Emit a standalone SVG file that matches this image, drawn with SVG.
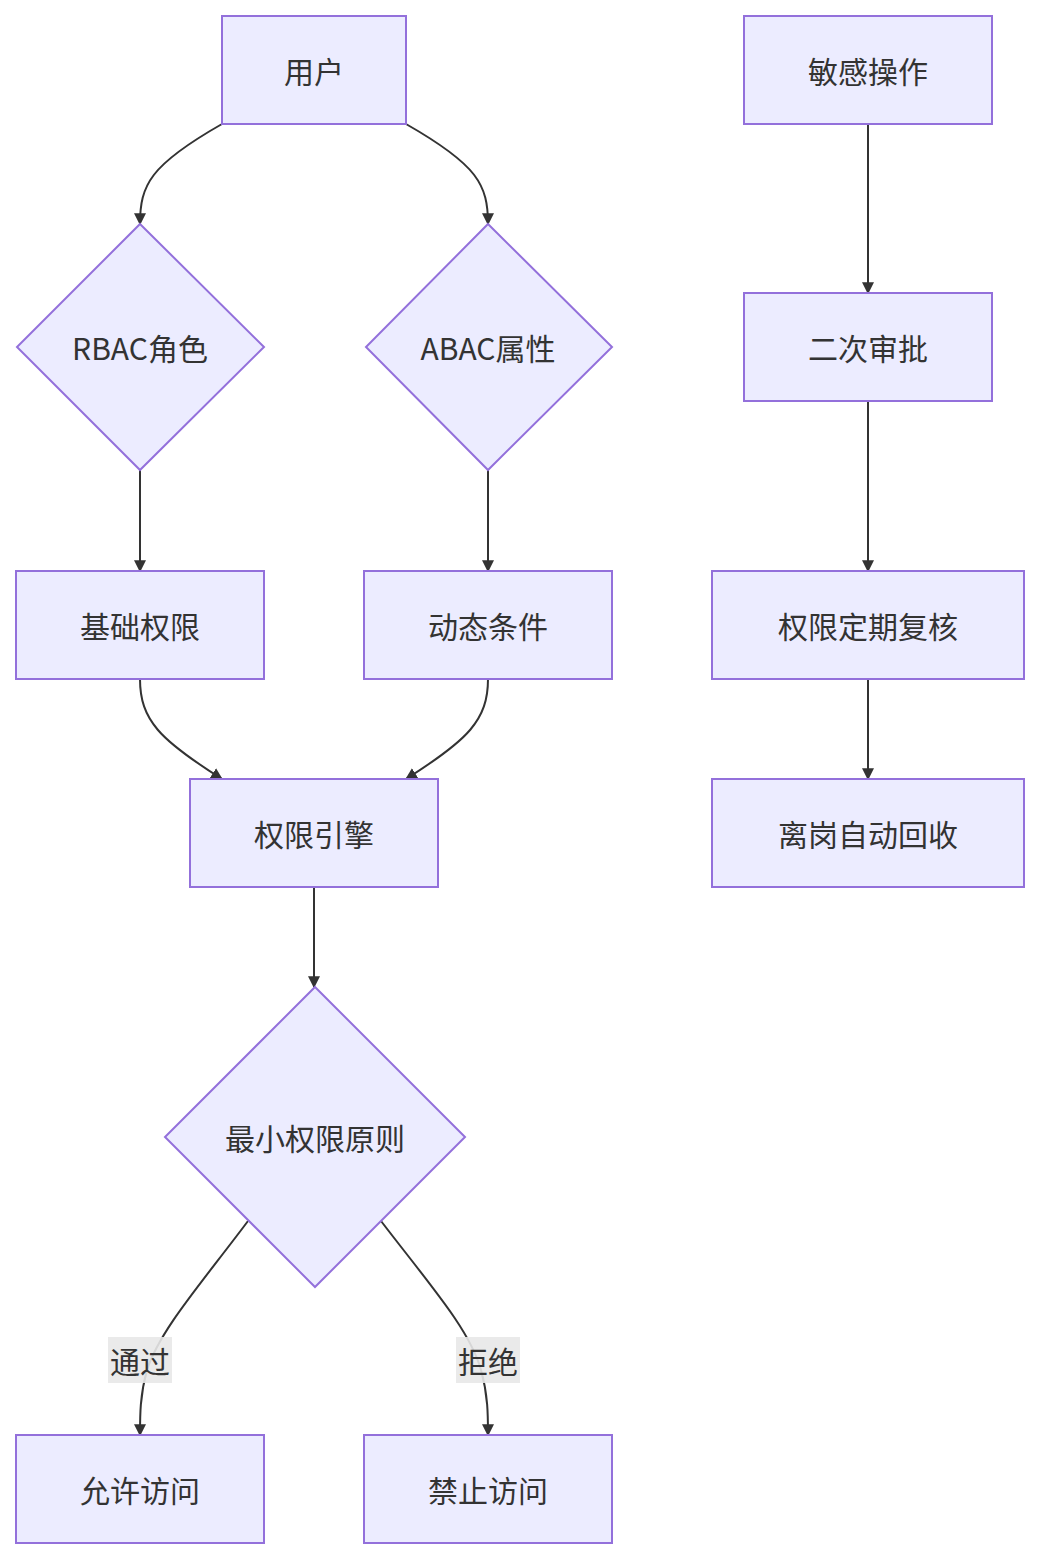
<svg xmlns="http://www.w3.org/2000/svg" width="1040" height="1558" viewBox="0 0 1040 1558">
<style>
.n{fill:#ECECFF;stroke:#9370DB;stroke-width:2}
.t{font-family:"Noto Sans CJK SC","Noto Sans",sans-serif;font-size:30px;fill:#333;text-anchor:middle;dominant-baseline:central}
.e{fill:none;stroke:#333;stroke-width:2;marker-end:url(#a)}
.lb{fill:#e8e8e8;opacity:0.9}
</style>
<defs><marker id="a" viewBox="0 0 10 10" refX="9" refY="5" markerWidth="12" markerHeight="12" markerUnits="userSpaceOnUse" orient="auto"><path d="M0,0L10,5L0,10z" fill="#333"/></marker></defs>
<rect width="1040" height="1558" fill="#fff"/>
<g id="edges">
<path class="e" d="M222,124 C150,165 140,185 140,224"/>
<path class="e" d="M406,124 C478,165 488,185 488,224"/>
<path class="e" d="M140,470 L140,571"/>
<path class="e" d="M488,470 L488,571"/>
<path class="e" d="M140,679 C140,720 160,740 222,779"/>
<path class="e" d="M488,679 C488,720 468,740 406,779"/>
<path class="e" d="M314,887 L314,987"/>
<path class="e" d="M248,1221 C200,1285 160,1330 147,1370 C140,1395 140,1415 140,1435"/>
<path class="e" d="M381,1221 C430,1285 470,1330 481,1370 C488,1395 488,1415 488,1435"/>
<path class="e" d="M868,124 L868,293"/>
<path class="e" d="M868,401 L868,571"/>
<path class="e" d="M868,679 L868,779"/>
</g>
<g id="l1"><rect class="lb" x="108" y="1337" width="64" height="46"/><text class="t" x="140" y="1360">通过</text></g>
<g id="l2"><rect class="lb" x="456" y="1337" width="64" height="46"/><text class="t" x="488" y="1360">拒绝</text></g>
<g id="user"><rect class="n" x="222" y="16" width="184" height="108"/><text class="t" x="314" y="70">用户</text></g>
<g id="rbac"><polygon class="n" points="140,224 264,347 140,470 17,347"/><text class="t" x="140" y="347">RBAC角色</text></g>
<g id="abac"><polygon class="n" points="488,224 612,347 488,470 366,347"/><text class="t" x="488" y="347">ABAC属性</text></g>
<g id="base"><rect class="n" x="16" y="571" width="248" height="108"/><text class="t" x="140" y="625">基础权限</text></g>
<g id="dyn"><rect class="n" x="364" y="571" width="248" height="108"/><text class="t" x="488" y="625">动态条件</text></g>
<g id="engine"><rect class="n" x="190" y="779" width="248" height="108"/><text class="t" x="314" y="833">权限引擎</text></g>
<g id="least"><polygon class="n" points="315,987 465,1137 315,1287 165,1137"/><text class="t" x="315" y="1137">最小权限原则</text></g>
<g id="allow"><rect class="n" x="16" y="1435" width="248" height="108"/><text class="t" x="140" y="1489">允许访问</text></g>
<g id="deny"><rect class="n" x="364" y="1435" width="248" height="108"/><text class="t" x="488" y="1489">禁止访问</text></g>
<g id="sens"><rect class="n" x="744" y="16" width="248" height="108"/><text class="t" x="868" y="70">敏感操作</text></g>
<g id="appr"><rect class="n" x="744" y="293" width="248" height="108"/><text class="t" x="868" y="347">二次审批</text></g>
<g id="review"><rect class="n" x="712" y="571" width="312" height="108"/><text class="t" x="868" y="625">权限定期复核</text></g>
<g id="revoke"><rect class="n" x="712" y="779" width="312" height="108"/><text class="t" x="868" y="833">离岗自动回收</text></g>
</svg>
